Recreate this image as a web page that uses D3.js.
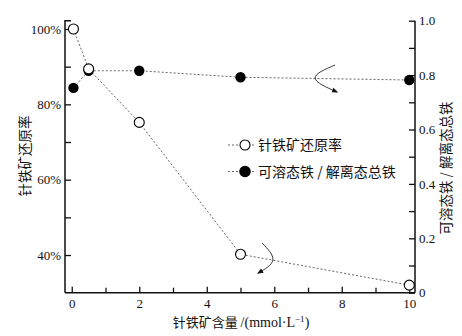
<!DOCTYPE html>
<html>
<head>
<meta charset="utf-8">
<script src="https://cdn.jsdelivr.net/npm/d3@7"></script>
<style>
  html, body { margin: 0; padding: 0; background: #fff; }
  svg { display: block; }
  .tick text { font-family: "Liberation Serif", "DejaVu Serif", serif; font-size: 13px; fill: #111; }
  .cjk { font-family: "Noto Sans CJK SC", sans-serif; fill: #111; }
</style>
</head>
<body>
<svg id="chart" width="462" height="336"></svg>
<script>
// ---- data ----
const dose = [0.05, 0.5, 2, 5, 10];                 // 针铁矿含量 mmol/L
const reduction = [100, 89.4, 75.2, 40.2, 32.0];     // 针铁矿还原率 %
const solubleRatio = [0.753, 0.816, 0.816, 0.792, 0.782]; // 可溶态铁 / 解离态总铁

const xMajor = [0, 2, 4, 6, 8, 10];
const xMinor = [1, 3, 5, 7, 9];
const yLMajor = [40, 60, 80, 100];
const yLMinor = [50, 70, 90];
const yRMajor = [0, 0.2, 0.4, 0.6, 0.8, 1.0];
const yRMinor = [0.1, 0.3, 0.5, 0.7, 0.9];

const legendLabels = ['针铁矿还原率', '可溶态铁 / 解离态总铁'];

// curved arrows (data coords): one points to the left axis, one to the right axis
const arrowLeft  = [[5.64, 43.2], [5.96, 38.7], [5.52, 35.2]];   // on left scale
const arrowRight = [[7.80, 0.837], [7.21, 0.789], [7.86, 0.738]]; // on right scale

// ---- layout ----
const L = 65, R = 415, T = 20.7, B = 292.7;
const svg = d3.select('#chart');
svg.append('rect').attr('width', 462).attr('height', 336).attr('fill', '#fff');

const x  = d3.scaleLinear([-0.2, 10.17], [L, R]);
const yL = d3.scaleLinear([30, 102.2], [B, T]);
const yR = d3.scaleLinear([0, 1], [B, T]);

function styleAxis(g) {
  g.selectAll('path.domain').attr('stroke', '#111').attr('stroke-width', 1.5);
  g.selectAll('.tick line').attr('stroke', '#111').attr('stroke-width', 1.3);
}

// bottom axis
svg.append('g').attr('transform', `translate(0,${B})`)
  .call(d3.axisBottom(x).tickValues(xMajor).tickSizeInner(-6).tickSizeOuter(0).tickPadding(6))
  .call(styleAxis)
  .call(g => g.select('path.domain').attr('d', `M${L},0H${R}`));
svg.append('g').attr('transform', `translate(0,${B})`)
  .call(d3.axisBottom(x).tickValues(xMinor).tickSizeInner(-5).tickSizeOuter(0).tickFormat(''))
  .call(styleAxis)
  .call(g => g.select('path.domain').remove());

// left axis
svg.append('g').attr('transform', `translate(${L},0)`)
  .call(d3.axisLeft(yL).tickValues(yLMajor).tickSizeInner(-6).tickSizeOuter(0).tickPadding(4)
    .tickFormat(d => d + '%'))
  .call(styleAxis)
  .call(g => g.select('path.domain').attr('d', `M6,${T}H0V${B}`));
svg.append('g').attr('transform', `translate(${L},0)`)
  .call(d3.axisLeft(yL).tickValues(yLMinor).tickSizeInner(-6).tickSizeOuter(0).tickFormat(''))
  .call(styleAxis)
  .call(g => g.select('path.domain').remove());

// right axis
svg.append('g').attr('transform', `translate(${R},0)`)
  .call(d3.axisRight(yR).tickValues(yRMajor).tickSizeInner(-6).tickSizeOuter(0).tickPadding(4)
    .tickFormat(d => d === 0 ? '0' : d.toFixed(1)))
  .call(styleAxis)
  .call(g => g.select('path.domain').attr('d', `M0,${T}V${B}`));
svg.append('g').attr('transform', `translate(${R},0)`)
  .call(d3.axisRight(yR).tickValues(yRMinor).tickSizeInner(-6).tickSizeOuter(0).tickFormat(''))
  .call(styleAxis)
  .call(g => g.select('path.domain').remove());

// axis titles
svg.append('text').attr('class', 'cjk')
  .attr('transform', 'translate(30,156) rotate(-90)')
  .attr('text-anchor', 'middle').attr('font-size', 13.5)
  .text('针铁矿还原率');
svg.append('text').attr('class', 'cjk')
  .attr('transform', 'translate(451,168) rotate(-90)')
  .attr('text-anchor', 'middle').attr('font-size', 13.5)
  .text('可溶态铁 / 解离态总铁');
const xt = svg.append('text').attr('class', 'cjk')
  .attr('x', 241).attr('y', 327).attr('text-anchor', 'middle').attr('font-size', 13);
xt.append('tspan').text('针铁矿含量 ');
xt.append('tspan').attr('font-family', '"Liberation Serif", serif').attr('font-size', 14).text('/(mmol·L');
xt.append('tspan').attr('font-family', '"Liberation Serif", serif').attr('font-size', 9).attr('dy', -5).text('−1');
xt.append('tspan').attr('font-family', '"Liberation Serif", serif').attr('font-size', 14).attr('dy', 5).text(')');

// series lines
const lineL = d3.line().x((d, i) => x(dose[i])).y(d => yL(d));
const lineR = d3.line().x((d, i) => x(dose[i])).y(d => yR(d));
svg.append('path').attr('d', lineL(reduction)).attr('fill', 'none')
  .attr('stroke', '#555').attr('stroke-width', 0.9).attr('stroke-dasharray', '2,2');
svg.append('path').attr('d', lineR(solubleRatio)).attr('fill', 'none')
  .attr('stroke', '#555').attr('stroke-width', 0.9).attr('stroke-dasharray', '2,2');

// markers
svg.append('g').selectAll('circle').data(solubleRatio).join('circle')
  .attr('cx', (d, i) => x(dose[i])).attr('cy', d => yR(d)).attr('r', 5.2)
  .attr('fill', '#000');
svg.append('g').selectAll('circle').data(reduction).join('circle')
  .attr('cx', (d, i) => x(dose[i])).attr('cy', d => yL(d)).attr('r', 5)
  .attr('fill', '#fff').attr('stroke', '#000').attr('stroke-width', 1.1);

// curved arrows
svg.append('defs').append('marker').attr('id', 'ah')
  .attr('viewBox', '0 0 10 10').attr('refX', 8).attr('refY', 5)
  .attr('markerWidth', 7).attr('markerHeight', 7).attr('orient', 'auto')
  .append('path').attr('d', 'M0,1L10,5L0,9Z').attr('fill', '#111');
const curve = d3.line().curve(d3.curveNatural);
svg.append('path').attr('d', curve(arrowLeft.map(p => [x(p[0]), yL(p[1])])))
  .attr('fill', 'none').attr('stroke', '#222').attr('stroke-width', 0.9).attr('marker-end', 'url(#ah)');
svg.append('path').attr('d', curve(arrowRight.map(p => [x(p[0]), yR(p[1])])))
  .attr('fill', 'none').attr('stroke', '#222').attr('stroke-width', 0.9).attr('marker-end', 'url(#ah)');

// legend
const lg = svg.append('g').attr('transform', 'translate(228,145)');
legendLabels.forEach((lab, i) => {
  const row = lg.append('g').attr('transform', `translate(0,${i * 26.5})`);
  row.append('line').attr('x1', 0).attr('x2', 28).attr('y1', 0).attr('y2', 0)
    .attr('stroke', '#555').attr('stroke-width', 0.9).attr('stroke-dasharray', '2,2');
  row.append('circle').attr('cx', 17).attr('cy', 0).attr('r', i === 0 ? 5 : 5.2)
    .attr('fill', i === 0 ? '#fff' : '#000').attr('stroke', '#000').attr('stroke-width', 1.1);
  row.append('text').attr('class', 'cjk').attr('x', 30).attr('y', 5)
    .attr('font-size', 14).text(lab);
});
</script>
</body>
</html>
